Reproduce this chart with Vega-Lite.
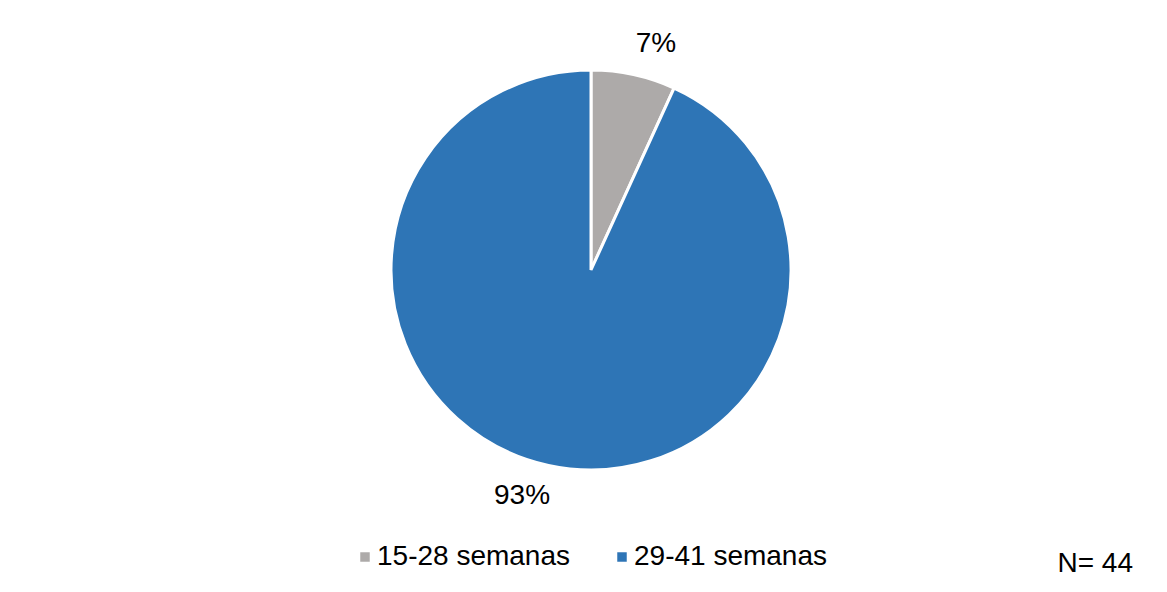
{
  "$schema": "https://vega.github.io/schema/vega-lite/v6.json",
  "width": 1182,
  "height": 540,
  "autosize": {"type": "none"},
  "padding": {"top": 0, "left": 0, "right": 0, "bottom": 52},
  "background": "white",
  "config": {"view": {"stroke": null}, "font": "Liberation Sans"},
  "title": {"text": "N= 44", "orient": "bottom", "anchor": "end", "dx": -49, "offset": -21, "fontSize": 28, "fontWeight": "normal", "color": "#000000", "font": "Liberation Sans"},
  "data": {"values": [
    {"grupo": "15-28 semanas", "n": 3, "label": "7%"},
    {"grupo": "29-41 semanas", "n": 41, "label": "93%"}
  ]},
  "encoding": {
    "theta": {"field": "n", "type": "quantitative", "stack": true},
    "color": {"field": "grupo", "type": "nominal", "scale": {"domain": ["15-28 semanas", "29-41 semanas"], "range": ["#ADAAA9", "#2E75B6"]},
      "legend": {"title": null, "orient": "none", "legendX": 351, "legendY": 543, "direction": "horizontal", "symbolType": "square", "symbolSize": 90, "symbolStrokeWidth": 0, "labelFontSize": 28, "labelFont": "Liberation Sans", "labelColor": "#000000", "labelOffset": -2, "labelLimit": 400, "columnPadding": 37}}
  },
  "layer": [
    {"mark": {"type": "arc", "outerRadius": 200, "stroke": "white", "strokeWidth": 3}},
    {"mark": {"type": "text", "radius": 235, "fontSize": 28, "font": "Liberation Sans", "color": "#000000", "dx": 15, "dy": 4},
     "encoding": {"text": {"condition": {"test": "datum.grupo === '15-28 semanas'", "field": "label"}, "value": ""}, "color": {"value": "#000000"}}},
    {"mark": {"type": "text", "radius": 235, "fontSize": 28, "font": "Liberation Sans", "color": "#000000", "dx": -19, "dy": -4},
     "encoding": {"text": {"condition": {"test": "datum.grupo === '29-41 semanas'", "field": "label"}, "value": ""}, "color": {"value": "#000000"}}}
  ]
}
